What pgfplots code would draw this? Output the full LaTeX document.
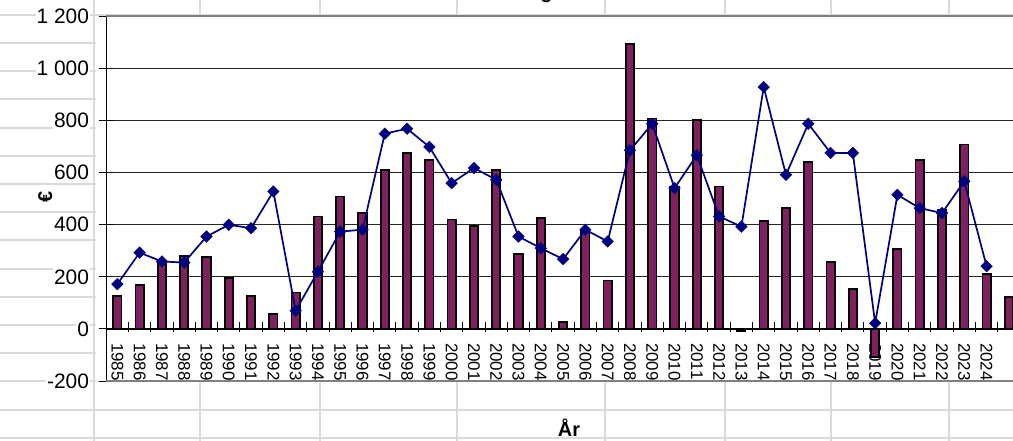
\documentclass[border=0pt]{standalone}
\usepackage{pgfplots}
\pgfplotsset{compat=1.18}
\usepackage{pgfplotstable}
\usepackage{fontspec}
\setmainfont{Liberation Sans}
\definecolor{barc}{RGB}{128,32,96}
\definecolor{linec}{RGB}{0,0,128}
\definecolor{cellgrid}{RGB}{218,218,218}

\pgfplotstableread{
idx val
0 125
1 170
2 250
3 280
4 275
5 197
6 127
7 57
8 140
9 432
10 509
11 445
12 611
13 676
14 650
15 420
16 396
17 611
18 287
19 426
20 28
21 378
22 186
23 1095
24 808
25 547
26 803
27 547
28 -7
29 415
30 465
31 642
32 257
33 154
34 -109
35 306
36 650
37 458
38 708
39 211
40 122
}\bardata

\pgfplotstableread{
idx val
0 172
1 293
2 259
3 255
4 355
5 400
6 387
7 528
8 70
9 220
10 374
11 381
12 750
13 769
14 699
15 560
16 618
17 573
18 355
19 310
20 268
21 381
22 336
23 686
24 788
25 541
26 667
27 432
28 393
29 929
30 592
31 788
32 676
33 676
34 22
35 515
36 464
37 445
38 567
39 241
}\linedata

\begin{document}
\begin{tikzpicture}
% spreadsheet cell grid in the background
\foreach \k in {0,...,15} {
  \draw[cellgrid, line width=2bp] (0bp,{(441-14.8-28.2*\k)*1bp}) -- (1013bp,{(441-14.8-28.2*\k)*1bp});
}
\foreach \xx in {94,200,320,457,605,725,831,949} {
  \draw[cellgrid, line width=2bp] (\xx bp,0bp) -- (\xx bp,441bp);
}
\fill[white] (96bp,60bp) rectangle (1013bp,424.5bp);
\node[font=\bfseries\fontsize{20}{20}\selectfont, anchor=base] at (546.5bp,442.5bp) {g};

\begin{axis}[
  at={(106.2bp,60bp)}, anchor=south west,
  scale only axis, width=913.8bp, height=364.5bp,
  xmin=-0.5, xmax=40.5, ymin=-200, ymax=1200,
  clip=false,
  axis x line*=middle, axis y line*=left,
  axis line style={black, line width=1.2bp, -},
  xtick={0,...,39},
  xticklabel={\pgfmathparse{int(1985+\tick)}\pgfmathresult},
  minor xtick={-0.5,0.5,...,40.5},
  ytick={-200,0,200,400,600,800,1000,1200},
  yticklabels={-200,0,200,400,600,800,1 000,1 200},
  tick align=center,
  major tick length=14bp,
  minor tick length=10bp,
  major x tick style={draw=none},
  minor x tick style={black, line width=1bp, yshift=1.5bp},
  ytick style={black, line width=1bp},
  ymajorgrids,
  major grid style={black!85, line width=0.8bp},
  xticklabel shift=7bp,
  yticklabel shift=9bp,
  xticklabel style={font=\fontsize{17}{17}\selectfont, rotate=-90, anchor=west, inner sep=0pt},
  yticklabel style={font=\fontsize{21}{21}\selectfont, fill=white, inner sep=1bp},
  xlabel={År},
  ylabel={€},
  xlabel style={at={(axis description cs:0.5065,-0.129)}, anchor=center, font=\bfseries\fontsize{20}{20}\selectfont},
  ylabel style={at={(axis description cs:-0.0668,0.5048)}, anchor=center, font=\bfseries\fontsize{20}{20}\selectfont},
]
\addplot[ybar, bar width=8.3bp, fill=barc, draw=black, line width=1.8bp] table[x=idx, y=val] {\bardata};
\addplot[linec, line width=1.7bp, mark=square*, mark size=4.1bp,
  mark options={rotate=45, fill=linec, draw=linec, line width=0.4bp}] table[x=idx, y=val] {\linedata};
\draw[black!50, line width=2bp] (rel axis cs:0,1) -- (rel axis cs:1,1);
\draw[black!50, line width=2bp] (rel axis cs:0,0) -- (rel axis cs:1,0);
\end{axis}
\pgfresetboundingbox
\useasboundingbox (0bp,0bp) rectangle (1013bp,441bp);
\end{tikzpicture}
\end{document}
